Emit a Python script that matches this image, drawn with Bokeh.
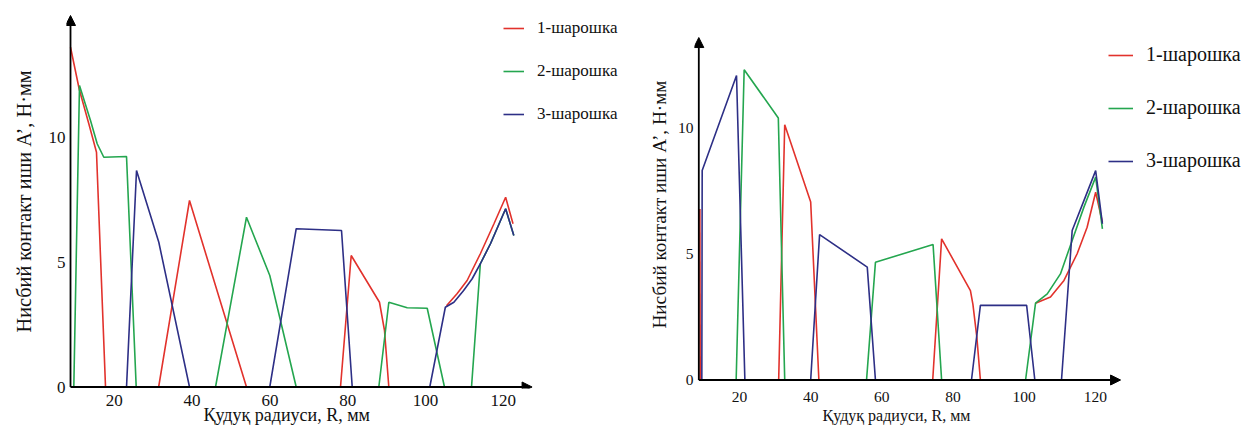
from bokeh.plotting import figure
from bokeh.layouts import row
from bokeh.models import (Arrow, NormalHead, Legend, LegendItem, FixedTicker,
                          Range1d, Title)
from bokeh.embed import file_html
from bokeh.resources import INLINE

SERIES_NAMES = ["1-шарошка", "2-шарошка", "3-шарошка"]
COLORS = ["#e2322c", "#24a64f", "#2d2f86"]
X_TICKS = [20, 40, 60, 80, 100, 120]
Y_TICKS = [0, 5, 10]
X_TITLE = "Қудуқ радиуси, R, мм"
Y_TITLE = "Нисбий контакт иши A\u2019, Н·мм"

# ---- left chart: contact segments, R (mm) and A' (N·mm) ----
left_red_r = [[8.74, 11.0, 13.5, 15.42, 17.74],
              [31.4, 39.33, 53.98],
              [78.15, 80.9, 88.17, 89.46, 90.57],
              [105.4, 108.1, 110.7, 114.1, 117.6, 120.6, 122.5]]
left_red_a = [[13.59, 11.9, 10.5, 9.39, 0.0],
              [0.0, 7.46, 0.0],
              [0.0, 5.26, 3.39, 2.26, 0.0],
              [3.25, 3.73, 4.26, 5.33, 6.53, 7.59, 6.53]]

left_green_r = [[9.59, 11.05, 13.88, 15.6, 17.3, 23.14, 25.63],
                [46.02, 53.98, 59.97, 66.76],
                [88.0, 90.57, 95.3, 100.44, 104.88],
                [111.83, 114.1, 116.7, 120.6, 122.7]]
left_green_a = [[0.0, 12.06, 10.66, 9.73, 9.19, 9.22, 0.0],
                [0.0, 6.79, 4.46, 0.0],
                [0.0, 3.39, 3.17, 3.15, 0.0],
                [0.0, 4.93, 5.73, 7.13, 6.06]]

left_blue_r = [[23.14, 25.71, 31.44, 39.33],
               [59.97, 66.76, 78.41, 81.16],
               [101.1, 105.1, 107.3, 109.8, 112.0, 114.1, 116.7, 120.6, 122.7]]
left_blue_a = [[0.0, 8.66, 5.79, 0.0],
               [0.0, 6.33, 6.26, 0.0],
               [0.0, 3.19, 3.39, 3.86, 4.33, 4.93, 5.73, 7.13, 6.06]]

# ---- right chart ----
right_red_r = [[8.85, 8.95],
               [31.0, 32.7, 40.0, 42.3],
               [74.3, 76.8, 84.9, 85.6, 86.7, 87.7],
               [103.2, 107.4, 111.2, 114.9, 117.7, 120.1, 122.0]]
right_red_a = [[6.79, 0.0],
               [0.0, 10.13, 7.06, 0.0],
               [0.0, 5.60, 3.55, 3.0, 1.7, 0.0],
               [3.05, 3.29, 3.95, 5.01, 6.06, 7.45, 6.26]]

right_green_r = [[19.05, 21.3, 30.9, 32.7],
                 [55.7, 58.2, 74.4, 76.8],
                 [100.4, 103.2, 106.5, 110.2, 113.5, 116.8, 120.1, 122.0]]
right_green_a = [[0.0, 12.31, 10.40, 0.0],
                 [0.0, 4.67, 5.38, 0.0],
                 [0.0, 3.05, 3.42, 4.21, 5.54, 6.86, 8.05, 6.0]]

right_blue_r = [[9.4, 9.5, 19.15, 21.5],
                [40.0, 42.5, 55.9, 58.2],
                [85.2, 87.7, 100.7, 103.0],
                [110.5, 113.5, 116.8, 120.1, 122.0]]
right_blue_a = [[0.0, 8.31, 12.08, 0.0],
                [0.0, 5.77, 4.48, 0.0],
                [0.0, 2.96, 2.96, 0.0],
                [0.0, 5.93, 7.12, 8.31, 6.2]]

FONT = "'Liberation Serif', 'Times New Roman', 'DejaVu Serif', serif"


def make_panel(series, x_range, y_range, borders, axis_ends, fonts, legend_cfg,
               titles_cfg):
    left, bottom = borders
    p = figure(width=623, height=430, output_backend="svg", toolbar_location=None,
               x_range=Range1d(*x_range), y_range=Range1d(*y_range),
               min_border_left=left, min_border_right=0, min_border_top=0,
               min_border_bottom=bottom)
    p.outline_line_color = None
    p.grid.visible = False
    p.background_fill_color = "white"
    p.border_fill_color = "white"

    tick_size, legend_size, xt_size, yt_size = fonts
    for ax, ticks in ((p.xaxis, X_TICKS), (p.yaxis, Y_TICKS)):
        ax.ticker = FixedTicker(ticks=ticks)
        ax.axis_line_color = None
        ax.major_tick_line_color = None
        ax.minor_tick_line_color = None
        ax.major_tick_out = 0
        ax.major_tick_in = 0
        ax.major_label_text_font = FONT
        ax.major_label_text_font_size = tick_size
        ax.major_label_text_color = "#111111"
    p.xaxis.major_label_standoff = titles_cfg["x_standoff"]
    p.yaxis.major_label_standoff = titles_cfg["y_standoff"]

    renderers = []
    for (xs, ys), color in zip(series, COLORS):
        r = p.multi_line(xs, ys, line_color=color, line_width=1.6)
        renderers.append(r)

    # axes drawn as arrows from the origin
    r0, r1, a1 = axis_ends
    for xs0, ys0, xs1, ys1 in ((r0, 0, r1, 0), (r0, 0, r0, a1)):
        p.add_layout(Arrow(end=NormalHead(size=10, fill_color="black",
                                          line_color="black", line_width=1),
                           x_start=xs0, y_start=ys0, x_end=xs1, y_end=ys1,
                           line_color="black", line_width=1.8))

    lx, ly, gw, spacing = legend_cfg
    legend = Legend(items=[LegendItem(label=n, renderers=[r])
                           for n, r in zip(SERIES_NAMES, renderers)],
                    location=(lx, ly), orientation="vertical",
                    glyph_width=gw, glyph_height=20, label_height=20,
                    label_standoff=13, spacing=spacing, padding=0, margin=0,
                    border_line_alpha=0, background_fill_alpha=0,
                    label_text_font=FONT, label_text_font_size=legend_size,
                    label_text_color="#111111")
    p.add_layout(legend)

    p.add_layout(Title(text=X_TITLE, align="left", offset=titles_cfg["x_offset"],
                       text_font=FONT, text_font_size=xt_size,
                       text_font_style="normal", text_color="#111111",
                       standoff=titles_cfg["x_title_standoff"]), "below")
    p.add_layout(Title(text=Y_TITLE, align="left", offset=titles_cfg["y_offset"],
                       text_font=FONT, text_font_size=yt_size,
                       text_font_style="normal", text_color="#111111",
                       standoff=titles_cfg["y_title_standoff"]), "left")
    return p


# both frames share the same bottom edge (row aligns them)
left = make_panel(
    series=[(left_red_r, left_red_a), (left_green_r, left_green_a),
            (left_blue_r, left_blue_a)],
    x_range=(7.71, 150.9), y_range=(-0.06, 15.46), borders=(66, 42),
    axis_ends=(8.74, 127.4, 14.86),
    fonts=("17px", "17px", "18px", "20.3px"),
    legend_cfg=(437, 264, 21, 23),
    titles_cfg=dict(x_standoff=6, y_standoff=1, x_offset=137,
                    x_title_standoff=-12, y_offset=56, y_title_standoff=21))

right = make_panel(
    series=[(right_red_r, right_red_a), (right_green_r, right_green_a),
            (right_blue_r, right_blue_a)],
    x_range=(7.34, 162.5), y_range=(-0.337, 15.06), borders=(71, 42),
    axis_ends=(8.55, 127.1, 13.59),
    fonts=("15.5px", "20px", "16px", "19.2px"),
    legend_cfg=(414, 216, 25, 30),
    titles_cfg=dict(x_standoff=3, y_standoff=1, x_offset=128,
                    x_title_standoff=0, y_offset=60, y_title_standoff=10))

layout = row(left, right, spacing=0)
open("out.html", "w").write(file_html(layout, INLINE))
